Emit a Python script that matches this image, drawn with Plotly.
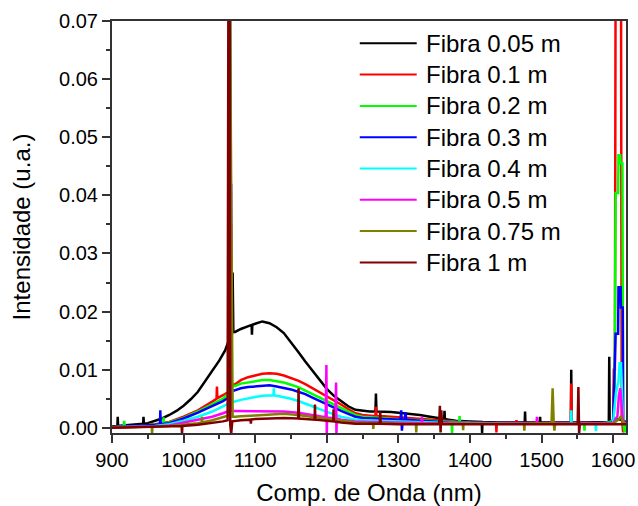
import plotly.graph_objects as go

series_names = ["Fibra 0.05 m", "Fibra 0.1 m", "Fibra 0.2 m", "Fibra 0.3 m",
                "Fibra 0.4 m", "Fibra 0.5 m", "Fibra 0.75 m", "Fibra 1 m"]
series_colors = ["#000000", "#FF0000", "#00FF00", "#0000FF",
                 "#00FFFF", "#FF00FF", "#808000", "#800000"]

wl_005 = [900, 905, 907.5, 908, 908.5, 915, 925, 935, 943.5, 944, 944.5, 950, 960, 970, 980, 990,
          1000, 1010, 1020, 1030, 1040, 1050, 1058, 1061, 1063, 1064.5, 1066, 1067.5, 1068.5, 1069.5,
          1072, 1080, 1090, 1095, 1095.5, 1096, 1100, 1110, 1120, 1130, 1140, 1150, 1160, 1170, 1180,
          1190, 1200, 1210, 1220, 1230, 1240, 1250, 1260, 1268, 1268.7, 1269.4, 1280, 1290, 1300,
          1310, 1320, 1330, 1340, 1350, 1360, 1364, 1364.5, 1365, 1370, 1380, 1400, 1416.5, 1417,
          1417.5, 1440, 1460, 1476.5, 1477, 1477.5, 1490, 1497.5, 1498, 1498.5, 1520, 1541, 1541.5,
          1542, 1560, 1580, 1594, 1594.6, 1595.2, 1600, 1605, 1610, 1615, 1618]
int_005 = [0.0002, 0.0003, 0.0003, 0.0019, 0.0003, 0.0004, 0.0005, 0.0006, 0.0007, 0.0019, 0.0007,
           0.0008, 0.0012, 0.0016, 0.0022, 0.0029, 0.0038, 0.0049, 0.0062, 0.0080, 0.0097, 0.0116,
           0.0133, 0.0142, 0.0150, 0.08, 0.0200, 0.0160, 0.0267, 0.0165, 0.0165, 0.0170, 0.0175,
           0.0177, 0.0160, 0.0177, 0.0179, 0.0183, 0.0180, 0.0173, 0.0163, 0.0148, 0.0131, 0.0114,
           0.0098, 0.0082, 0.0067, 0.0055, 0.0046, 0.0037, 0.0031, 0.0029, 0.0028, 0.0028, 0.0059,
           0.0028, 0.0028, 0.0027, 0.0026, 0.0025, 0.0023, 0.0022, 0.0020, 0.0018, 0.0016, 0.0015,
           0.0029, 0.0015, 0.0014, 0.0012, 0.0011, 0.0010, -0.0009, 0.0010, 0.0009, 0.0009, 0.0009,
           0.0028, 0.0009, 0.0009, 0.0009, 0.0019, 0.0009, 0.0009, 0.0009, 0.0100, 0.0009, 0.0009,
           0.0010, 0.0010, 0.0122, 0.0011, 0.0012, 0.0015, 0.0014, 0.0012, 0.0010]

wl_01 = [900, 920, 940, 960, 980, 1000, 1020, 1040, 1046, 1046.6, 1047.2, 1055, 1060, 1063, 1064.5,
         1066, 1067.5, 1072, 1080, 1090, 1100, 1110, 1120, 1130, 1140, 1150, 1160, 1170, 1180, 1190,
         1200, 1210, 1220, 1230, 1240, 1250, 1260, 1268, 1268.7, 1269.4, 1280, 1290, 1310, 1330, 1350,
         1370, 1400, 1436.5, 1437, 1437.5, 1464.5, 1465, 1465.5, 1500, 1541, 1541.5, 1542, 1570, 1590,
         1600, 1601, 1602.5, 1603.5, 1611, 1612, 1614, 1616, 1618]
int_01 = [0.0001, 0.0002, 0.0003, 0.0006, 0.0010, 0.0019, 0.0030, 0.0045, 0.0050, 0.0071, 0.0051,
          0.0056, 0.0060, 0.0062, 0.08, 0.0120, 0.0073, 0.0075, 0.0082, 0.0087, 0.0090, 0.0093, 0.0094,
          0.0093, 0.0090, 0.0086, 0.0081, 0.0075, 0.0068, 0.0061, 0.0055, 0.0047, 0.0040, 0.0032,
          0.0025, 0.0022, 0.0021, 0.0020, 0.0036, 0.0020, 0.0020, 0.0019, 0.0017, 0.0015, 0.0013,
          0.0011, 0.0009, 0.0008, -0.0008, 0.0008, 0.0008, 0.0013, 0.0008, 0.0008, 0.0008, 0.0076,
          0.0008, 0.0008, 0.0008, 0.0010, 0.0100, 0.0100, 0.08, 0.08, 0.0020, -0.0008, 0.0010, 0.0010]

wl_02 = [900, 916, 917, 918, 940, 960, 971.5, 972, 972.5, 980, 1000, 1020, 1040, 1055, 1060, 1063,
         1064.5, 1066, 1067.5, 1072, 1080, 1090, 1100, 1110, 1120, 1130, 1140, 1150, 1160, 1170, 1180,
         1190, 1200, 1210, 1220, 1230, 1240, 1250, 1270, 1290, 1310, 1330, 1350, 1370, 1374.5, 1375,
         1375.5, 1385, 1385.5, 1386, 1400, 1450, 1500, 1550, 1559.5, 1560, 1560.5, 1590, 1600, 1602,
         1603.5, 1607, 1607.5, 1610, 1610.5, 1613, 1614, 1616, 1618]
int_02 = [0.0001, 0.0002, 0.0012, 0.0002, 0.0003, 0.0005, 0.0007, 0.0018, 0.0007, 0.0009, 0.0017,
          0.0028, 0.0041, 0.0050, 0.0056, 0.0058, 0.08, 0.0150, 0.0072, 0.0072, 0.0076, 0.0078,
          0.0080, 0.0082, 0.0082, 0.0080, 0.0078, 0.0074, 0.0070, 0.0064, 0.0058, 0.0052, 0.0046,
          0.0040, 0.0034, 0.0028, 0.0022, 0.0019, 0.0017, 0.0016, 0.0014, 0.0013, 0.0011, 0.0010,
          0.0010, -0.0010, 0.0010, 0.0009, 0.0020, 0.0009, 0.0008, 0.0007, 0.0007, 0.0007, 0.0007,
          -0.0005, 0.0007, 0.0008, 0.0012, 0.0040, 0.0404, 0.0404, 0.0469, 0.0469, 0.0455, 0.0455,
          0.0010, -0.0008, 0.0008]

wl_03 = [900, 920, 940, 960, 967, 967.5, 968, 980, 1000, 1020, 1040, 1055, 1060, 1063, 1064.5,
         1065.5, 1066.3, 1067, 1070, 1080, 1090, 1100, 1110, 1120, 1130, 1140, 1150, 1160, 1170, 1180,
         1190, 1200, 1210, 1220, 1230, 1240, 1250, 1270, 1290, 1303, 1304, 1305, 1306, 1309, 1310,
         1311, 1330, 1350, 1370, 1400, 1450, 1500, 1550, 1590, 1600, 1603.5, 1607, 1607.5, 1610.5,
         1611, 1613.5, 1614, 1618]
int_03 = [0.0001, 0.0002, 0.0003, 0.0005, 0.0006, 0.0030, 0.0006, 0.0008, 0.0016, 0.0026, 0.0037,
          0.0046, 0.0050, 0.0052, 0.08, 0.0050, 0.0420, 0.0065, 0.0064, 0.0068, 0.0070, 0.0071,
          0.0073, 0.0073, 0.0071, 0.0069, 0.0066, 0.0062, 0.0058, 0.0052, 0.0046, 0.0040, 0.0034,
          0.0029, 0.0024, 0.0019, 0.0017, 0.0016, 0.0015, 0.0014, 0.0030, -0.0005, 0.0014, 0.0014,
          0.0027, 0.0014, 0.0012, 0.0010, 0.0009, 0.0008, 0.0008, 0.0008, 0.0008, 0.0008, 0.0010,
          0.0162, 0.0162, 0.0242, 0.0242, 0.0207, 0.0207, 0.0008, 0.0008]

wl_04 = [900, 920, 940, 960, 980, 1000, 1020, 1040, 1055, 1060, 1063, 1064.5, 1066, 1068, 1080,
         1090, 1100, 1110, 1120, 1125.5, 1126, 1126.5, 1130, 1140, 1150, 1160, 1170, 1180, 1190, 1200,
         1210, 1220, 1230, 1240, 1250, 1270, 1290, 1310, 1330, 1350, 1370, 1400, 1450, 1500, 1541,
         1541.5, 1542, 1575.5, 1576, 1576.5, 1600, 1604, 1607.5, 1609, 1611, 1613, 1614, 1618]
int_04 = [0.0001, 0.0001, 0.0002, 0.0003, 0.0006, 0.0012, 0.0019, 0.0028, 0.0036, 0.0040, 0.0042,
          0.08, 0.0200, 0.0044, 0.0048, 0.0051, 0.0053, 0.0055, 0.0056, 0.0056, 0.0068, 0.0056,
          0.0055, 0.0053, 0.0050, 0.0046, 0.0042, 0.0037, 0.0032, 0.0027, 0.0023, 0.0019, 0.0016,
          0.0014, 0.0013, 0.0012, 0.0012, 0.0011, 0.0010, 0.0009, 0.0008, 0.0008, 0.0007, 0.0007,
          0.0007, 0.0030, 0.0007, 0.0007, -0.0006, 0.0007, 0.0009, 0.0060, 0.0080, 0.0111, 0.0111,
          0.0040, 0.0007, 0.0007]

wl_05 = [900, 920, 940, 960, 980, 1000, 1020, 1040, 1055, 1060, 1063, 1065.5, 1066.3, 1067, 1070,
         1080, 1100, 1120, 1140, 1160, 1180, 1198.5, 1199.5, 1200, 1200.5, 1212, 1213, 1213.5, 1214,
         1220, 1240, 1260, 1300, 1332.5, 1333, 1333.5, 1400, 1493, 1493.6, 1494.2, 1550, 1600, 1606,
         1608, 1610, 1612, 1614, 1618]
int_05 = [0.0001, 0.0001, 0.0002, 0.0002, 0.0004, 0.0009, 0.0013, 0.0019, 0.0025, 0.0028, 0.0029,
          0.0030, 0.0350, 0.0029, 0.0029, 0.0029, 0.0029, 0.0029, 0.0028, 0.0026, 0.0022, 0.0018,
          0.0108, -0.0013, 0.0018, 0.0016, 0.0078, -0.0013, 0.0016, 0.0014, 0.0011, 0.0010, 0.0009,
          0.0008, 0.0019, 0.0008, 0.0007, 0.0007, 0.0019, 0.0007, 0.0007, 0.0008, 0.0020, 0.0055,
          0.0068, 0.0040, 0.0007, 0.0007]

wl_075 = [900, 940, 955.5, 956, 956.5, 980, 1000, 1020, 1025.2, 1025.7, 1026.2, 1040, 1055, 1060,
          1063, 1064.5, 1067.5, 1068.5, 1072, 1080, 1100, 1120, 1140, 1160, 1180, 1200, 1220, 1240,
          1260, 1264.5, 1265, 1265.5, 1300, 1324.5, 1325, 1325.5, 1390, 1390.5, 1391, 1475.5, 1476,
          1476.5, 1514, 1515.5, 1517, 1518, 1519, 1600, 1608, 1611, 1614, 1618]
int_075 = [0.0000, 0.0001, 0.0002, -0.0009, 0.0002, 0.0003, 0.0005, 0.0008, 0.0009, 0.0019, 0.0009,
           0.0013, 0.0018, 0.0020, 0.0021, 0.08, 0.0140, 0.0019, 0.0019, 0.0020, 0.0021, 0.0023,
           0.0024, 0.0022, 0.0019, 0.0016, 0.0012, 0.0009, 0.0008, 0.0008, -0.0002, 0.0008, 0.0007,
           0.0007, -0.0008, 0.0007, 0.0007, -0.0004, 0.0007, 0.0007, -0.0005, 0.0007, 0.0008, 0.0068,
           0.0009, -0.0005, 0.0007, 0.0007, 0.0015, 0.0020, 0.0007, 0.0007]

wl_1 = [900, 940, 980, 997.3, 997.8, 998.3, 1020, 1040, 1055, 1061.5, 1062.8, 1064.2, 1065.2, 1066.5,
        1068, 1080, 1093.5, 1094, 1094.5, 1100, 1120, 1140, 1160, 1160.6, 1161.2, 1180, 1183, 1183.5,
        1184, 1200, 1209, 1209.5, 1210, 1220, 1240, 1274, 1274.7, 1275.4, 1300, 1357, 1358, 1359, 1360,
        1361, 1400, 1500, 1550.5, 1551.5, 1552.5, 1553.5, 1600, 1618]
int_1 = [0.0000, 0.0001, 0.0002, 0.0003, -0.0010, 0.0003, 0.0005, 0.0008, 0.0011, 0.0013, 0.09,
         0.09, 0.0005, -0.0010, 0.0011, 0.0013, 0.0014, 0.0007, 0.0014, 0.0015, 0.0016, 0.0017,
         0.0016, 0.0068, 0.0016, 0.0014, 0.0014, 0.0040, 0.0014, 0.0012, 0.0011, 0.0032, 0.0011,
         0.0009, 0.0007, 0.0007, 0.0028, 0.0007, 0.0006, 0.0006, 0.0038, -0.0008, 0.0030, 0.0006,
         0.0006, 0.0006, 0.0006, 0.0070, -0.0009, 0.0006, 0.0006, 0.0006]

wavelengths = [wl_005, wl_01, wl_02, wl_03, wl_04, wl_05, wl_075, wl_1]
intensities = [int_005, int_01, int_02, int_03, int_04, int_05, int_075, int_1]

FONT = "Liberation Sans, Arial, sans-serif"
fig = go.Figure()
for name, color, x, y in zip(series_names, series_colors, wavelengths, intensities):
    fig.add_trace(go.Scatter(x=x, y=y, mode="lines", name=name,
                             line=dict(color=color, width=2.5), showlegend=False))

# manual legend (text + line sample) in paper coordinates
L, R, T, B = 112, 626.5, 21, 433
W, H = R - L, B - T
for i, (name, color) in enumerate(zip(series_names, series_colors)):
    ypix = 43.3 + i * 31.3
    yp = (B - ypix) / H
    fig.add_shape(type="line", xref="paper", yref="paper",
                  x0=(360 - L) / W, x1=(417 - L) / W, y0=yp, y1=yp,
                  line=dict(color=color, width=2))
    fig.add_annotation(xref="paper", yref="paper", x=(424 - L) / W, y=yp,
                       text=name, showarrow=False, xanchor="left", yanchor="middle",
                       font=dict(family=FONT, size=24, color="#000000"))

axis_common = dict(showline=True, linecolor="#333333", linewidth=2, mirror=True,
                   ticks="outside", ticklen=8, tickwidth=1.5, tickcolor="#333333",
                   showgrid=False, zeroline=False,
                   tickfont=dict(family=FONT, size=20, color="#000000"))
fig.update_xaxes(range=[900, 1618], tickvals=[900, 1000, 1100, 1200, 1300, 1400, 1500, 1600],
                 minor=dict(dtick=50, tick0=900, ticks="outside", ticklen=4, tickwidth=1.5,
                            tickcolor="#333333"),
                 title=dict(text="Comp. de Onda (nm)", font=dict(family=FONT, size=24, color="#000000"),
                            standoff=16),
                 **axis_common)
fig.update_yaxes(range=[-0.0009, 0.07], tickvals=[0, 0.01, 0.02, 0.03, 0.04, 0.05, 0.06, 0.07],
                 tickformat=".2f",
                 minor=dict(dtick=0.005, tick0=0, ticks="outside", ticklen=4, tickwidth=1.5,
                            tickcolor="#333333"),
                 title=dict(text="Intensidade (u.a.)", font=dict(family=FONT, size=24, color="#000000"),
                            standoff=22),
                 **axis_common)
fig.update_layout(width=638, height=506, paper_bgcolor="white", plot_bgcolor="white",
                  margin=dict(l=L, r=638 - R, t=T, b=506 - B, autoexpand=False),
                  font=dict(family=FONT))
fig.write_html("out.html")
